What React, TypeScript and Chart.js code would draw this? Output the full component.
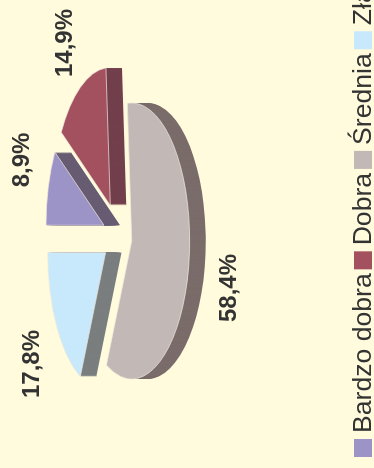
import React, { useEffect, useRef } from "react";
import { Chart, registerables } from "chart.js";

Chart.register(...registerables);

const categories = ["Bardzo dobra", "Dobra", "Średnia", "Zła"];
const values = [8.9, 14.9, 58.4, 17.8];
const valueLabels = ["8,9%", "14,9%", "58,4%", "17,8%"];
const topColors = ["#9c93c7", "#a3505f", "#c2b8b6", "#c8e9fb"];
const sideColors = ["#675c72", "#723f4c", "#7a6c6a", "#7a7e7e"];

const BG = "#fffbdc";
const TEXT = "#333333";
const W = 468;
const H = 374;
const RADIUS = 138;
const SQUASH = 0.42;
const DEPTH = 16;
const EXPLODE = 34;
const CENTER_U = 233.4;
const CENTER_V = 117.7;
const DRAW_ORDER = [0, 1, 3, 2];
// label centres, relative to the canvas before its rotation
const LABEL_SPOTS: [number, number][] = [[308, 22], [425, 65], [180, 229], [104, 32]];

const pie3d = {
  id: "pie3d",
  beforeDatasetsDraw(chart: any) {
    const ctx = chart.ctx;
    const arcs = chart.getDatasetMeta(0).data;
    const paint = (i: number, k: number, fill: string, border: number) => {
      const arc = arcs[i];
      const half = (arc.startAngle + arc.endAngle) / 2;
      const view = Object.create(arc, {
        options: {
          value: {
            backgroundColor: fill,
            borderColor: "#efe9dc",
            borderWidth: border,
            borderAlign: "center",
            borderJoinStyle: "round",
            borderRadius: 0,
            borderDash: [],
            borderDashOffset: 0,
            offset: 0,
            spacing: 0,
            circular: true,
          },
        },
      });
      ctx.save();
      ctx.translate(CENTER_U, CENTER_V + k);
      ctx.scale(1, SQUASH);
      ctx.translate(Math.cos(half) * EXPLODE, Math.sin(half) * EXPLODE);
      ctx.translate(-arc.x, -arc.y);
      view.draw(ctx);
      ctx.restore();
    };
    DRAW_ORDER.forEach((i) => {
      for (let k = DEPTH; k >= 1; k--) paint(i, k, sideColors[i], 0);
      paint(i, 0, topColors[i], 1);
    });
    return false;
  },
  afterDraw(chart: any) {
    const ctx = chart.ctx;
    ctx.save();
    ctx.fillStyle = TEXT;
    ctx.textAlign = "center";
    ctx.textBaseline = "middle";
    ctx.font = 'bold 24px "Liberation Sans"';
    valueLabels.forEach((t, i) => ctx.fillText(t, LABEL_SPOTS[i][0], LABEL_SPOTS[i][1]));
    // legend
    ctx.textAlign = "left";
    ctx.textBaseline = "alphabetic";
    ctx.font = '26.6px "Liberation Sans"';
    let u = 11;
    categories.forEach((name, i) => {
      ctx.fillStyle = topColors[i];
      ctx.fillRect(u, 354, 18, 18);
      ctx.fillStyle = TEXT;
      ctx.fillText(name, u + 24, 371);
      u += 24 + ctx.measureText(name).width + 4;
    });
    ctx.restore();
  },
};

export default function App() {
  const ref = useRef<HTMLCanvasElement>(null);
  useEffect(() => {
    const chart = new Chart(ref.current!, {
      type: "pie",
      data: {
        labels: categories,
        datasets: [{ data: values, backgroundColor: topColors, borderWidth: 1, radius: RADIUS } as any],
      },
      options: {
        animation: false,
        responsive: false,
        devicePixelRatio: 1,
        plugins: { legend: { display: false }, tooltip: { enabled: false } },
      },
      plugins: [pie3d],
    });
    return () => chart.destroy();
  }, []);
  return (
    <div style={{ position: "fixed", left: 0, top: 0, width: 374, height: 468, overflow: "hidden", background: BG }}>
      <canvas
        ref={ref}
        width={W}
        height={H}
        style={{
          position: "absolute",
          left: 0,
          top: 0,
          width: W,
          height: H,
          transformOrigin: "0 0",
          transform: `translateY(${W}px) rotate(-90deg)`,
        }}
      />
    </div>
  );
}
